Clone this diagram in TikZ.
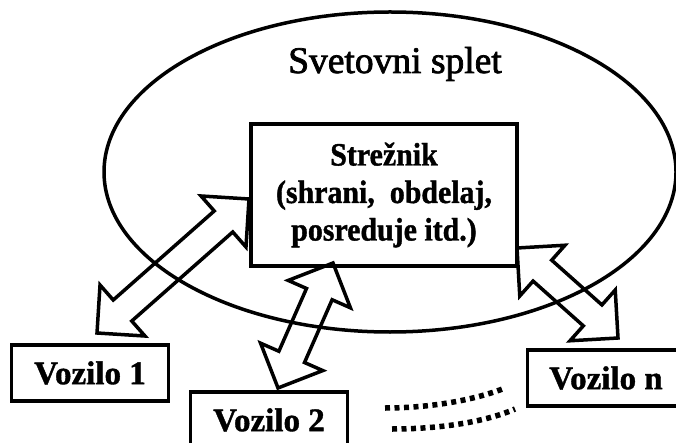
\documentclass[tikz,border=0pt]{standalone}
\usepackage{fontspec}
\usepackage{graphicx}
\setmainfont{Liberation Serif}[BoldFeatures={FakeBold=1.2}]
\newfontfamily\titlefont{Liberation Serif}[FakeBold=2]
\usetikzlibrary{calc,shapes.geometric}
\newcommand\blockarrow[2]{%
  \coordinate (ba1) at ($(#1)!34pt!(#2)$);
  \coordinate (ba2) at ($(#2)!34pt!(#1)$);
  \draw[blockline] (#1) -- ($(ba1)!34pt!90:(#2)$) -- ($(ba1)!14pt!90:(#2)$)
    -- ($(ba2)!14pt!-90:(#1)$) -- ($(ba2)!34pt!-90:(#1)$) -- (#2)
    -- ($(ba2)!34pt!90:(#1)$) -- ($(ba2)!14pt!90:(#1)$)
    -- ($(ba1)!14pt!-90:(#2)$) -- ($(ba1)!34pt!-90:(#2)$) -- cycle;}
\tikzset{
  blockline/.style={line width=3.5pt, line join=miter},
  vbox/.style={draw, line width=3.5pt, minimum width=157pt, minimum height=56pt, inner sep=0pt,
    font=\bfseries\fontsize{33}{38}\selectfont},
  dotline/.style={line width=5.5pt, dash pattern=on 5pt off 4.5pt}
}
\begin{document}
\begin{tikzpicture}[x=1pt,y=-1pt]
\useasboundingbox[fill=white] (0,0) rectangle (676,443);
\node[draw, ellipse, line width=3.5pt, minimum width=572pt, minimum height=320pt, inner sep=0pt] (web) at (390,172) {};
\node[anchor=base, font=\titlefont\fontsize{37.5}{40}\selectfont] (webtitle) at (395,73) {Svetovni splet};
\node[draw, line width=3.5pt, minimum width=266pt, minimum height=142pt, inner sep=0pt, align=center,
  font=\bfseries\fontsize{32.5}{37.5}\selectfont] (server) at (384,195)
  {\scalebox{0.92}[1]{Strežnik}\\\scalebox{0.92}[1]{(shrani,\ \ obdelaj,}\\\scalebox{0.92}[1]{posreduje itd.)}};
\node[vbox] (v1) at (90,373) {Vozilo 1};
\node[vbox] (v2) at (269,420) {Vozilo 2};
\node[vbox] (vn) at (606,378) {Vozilo n};
\coordinate (a1s) at (97,333);
\coordinate (a1e) at (249,199);
\coordinate (a2s) at (278,388);
\coordinate (a2e) at (333,263);
\coordinate (a3s) at (517,248);
\coordinate (a3e) at (618,338);
\blockarrow{a1s}{a1e}
\blockarrow{a2s}{a2e}
\blockarrow{a3s}{a3e}
\coordinate (d1s) at (385,408);
\coordinate (d1e) at (505,388);
\coordinate (d2s) at (392,429);
\coordinate (d2e) at (515,409);
\draw[dotline] (d1s) .. controls (430,408) and (475,400) .. (d1e);
\draw[dotline] (d2s) .. controls (440,429) and (485,422) .. (d2e);
\end{tikzpicture}
\end{document}
